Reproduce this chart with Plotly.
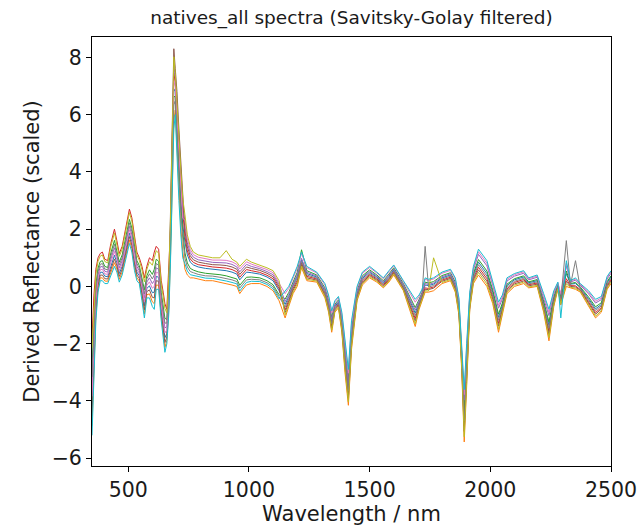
import plotly.graph_objects as go

# Wavelength grid (nm) shared by all spectra
wavelength_nm = [
    350, 358, 366, 375, 384, 393, 403, 415, 428, 443, 453, 463, 475, 490, 505, 515,
    526, 536, 546, 557, 567, 577, 588, 600, 608, 616, 626, 637, 645, 652, 660, 668,
    675, 682, 689, 695, 702, 710, 718, 726,
    735, 745, 757, 770, 790, 820, 850, 880, 906, 930, 950, 962, 975, 990, 1010, 1045,
    1075, 1100, 1125,
    1150, 1165, 1183, 1200, 1218, 1240, 1281, 1315, 1330, 1343, 1356, 1371, 1385, 1398,
    1412, 1425, 1448, 1470, 1500, 1530, 1557, 1580, 1600, 1640, 1668, 1689, 1705, 1717,
    1730, 1744, 1765, 1800, 1835, 1855,
    1870, 1882, 1892, 1902, 1915, 1930, 1951, 1986, 2010, 2034, 2050, 2069, 2100, 2138,
    2159, 2194, 2221, 2243, 2263, 2280, 2292, 2315, 2332, 2353, 2373, 2407, 2436, 2460,
    2484, 2500,
]

# Savitsky-Golay derivative spectra, one list per sample
sample_01 = [
    -4.18, -2.19, -0.66, 0.16, 0.49, 0.5, 0.36, 0.34, 0.73, 1.09, 0.83, 0.45, 0.7, 1.26, 1.86, 1.56,
    0.9, 0.5, 0.37, -0.14, -0.68, -0.07, 0.02, -0.22, -0.2, 0.35, 0.32, -0.78, -1.25, -1.79, -1.64, -0.55,
    1.65, 4.5, 6.9, 6.8, 5.65, 4.25, 3.05, 2.15,
    1.55, 1.1, 0.85, 0.75, 0.68, 0.63, 0.6, 0.58, 0.55, 0.5, 0.43, 0.23, 0.35, 0.5, 0.48, 0.43,
    0.33, 0.2, -0.15,
    -0.63, -0.35, 0.05, 0.35, 0.93, 0.45, 0.33, -0.15, -0.6, -1.23, -0.7, -0.55, -1.25, -2.4,
    -3.53, -1.7, -0.25, 0.28, 0.5, 0.33, 0.13, 0.35, 0.58, 0.03, -0.5, -0.93, -0.55, -0.3,
    0.05, 0.03, 0.08, 0.3, 0.4, 0.05,
    -0.7, -2.5, -4.52, -2.75, -0.5, 0.4, 0.85, 0.45, -0.2, -1.08, -0.65, 0.03, 0.23, 0.33,
    0.13, 0.2, -0.58, -1.35, -0.43, 0.03, -0.43, 0.45, 0.08, 0.1, -0.05, -0.43, -0.78, -0.63,
    0.13, 0.33,
]
sample_02 = [
    -4.86, -2.73, -1.02, -0.08, 0.3, 0.3, 0.19, 0.18, 0.51, 0.83, 0.61, 0.25, 0.5, 1.02, 1.62, 1.32,
    0.67, 0.3, 0.19, -0.38, -0.96, -0.29, -0.26, -0.54, -0.6, 0.05, 0.04, -1.06, -1.55, -2.13, -1.88, -0.85,
    0.97, 3.7, 5.78, 6.16, 4.73, 3.25, 2.05, 1.23,
    0.6, 0.4, 0.3, 0.3, 0.25, 0.2, 0.2, 0.15, 0.1, 0.05, 0.0, -0.25, -0.1, 0.05, 0.1, 0.1,
    0.0, -0.15, -0.5,
    -1.1, -0.7, -0.25, 0.0, 0.65, 0.2, 0.15, -0.4, -0.9, -1.6, -0.9, -0.75, -1.6, -3.0,
    -4.15, -2.2, -0.5, 0.05, 0.3, 0.15, -0.05, 0.15, 0.4, -0.15, -0.85, -1.4, -0.8, -0.5,
    -0.2, -0.2, -0.15, 0.1, 0.2, -0.2,
    -1.0, -3.0, -5.43, -3.5, -0.8, 0.1, 0.4, 0.0, -0.6, -1.6, -1.0, -0.25, 0.0, 0.1,
    -0.05, 0.0, -0.9, -1.9, -0.7, -0.1, -0.65, 0.0, -0.05, -0.1, -0.2, -0.7, -1.1, -0.9,
    -0.1, 0.1,
]
sample_03 = [
    -2.82, -1.11, 0.06, 0.64, 0.87, 0.9, 0.7, 0.66, 1.17, 1.61, 1.27, 0.85, 1.1, 1.74, 2.34, 2.04,
    1.36, 0.9, 0.73, 0.34, -0.12, 0.37, 0.58, 0.42, 0.6, 0.95, 0.88, -0.22, -0.65, -1.11, -1.16, 0.05,
    1.48, 4.3, 6.62, 6.64, 5.42, 4.0, 2.8, 1.92,
    1.17, 0.82, 0.63, 0.57, 0.51, 0.46, 0.44, 0.41, 0.37, 0.32, 0.26, 0.04, 0.17, 0.32, 0.33, 0.3,
    0.2, 0.06, -0.29,
    -0.44, -0.21, 0.17, 0.49, 1.28, 0.55, 0.4, -0.05, -0.48, -1.08, -0.62, -0.47, -1.11, -2.16,
    -3.28, -1.5, -0.15, 0.37, 0.58, 0.4, 0.2, 0.43, 0.65, 0.1, -0.36, -0.74, -0.45, -0.22,
    0.15, 0.12, 0.17, 0.38, 0.48, 0.15,
    -0.64, -2.4, -4.33, -2.6, -0.44, 0.46, 0.94, 0.54, -0.12, -0.97, -0.58, 0.08, 0.27, 0.37,
    0.16, 0.24, -0.51, -1.24, -0.37, 0.05, -0.38, 0.54, 0.1, 0.14, -0.02, -0.37, -0.71, -0.57,
    0.17, 0.37,
]
sample_04 = [
    -1.8, -0.3, 0.6, 1.0, 1.15, 1.2, 0.95, 0.9, 1.5, 2.0, 1.6, 1.15, 1.4, 2.1, 2.7, 2.4,
    1.7, 1.2, 1.0, 0.7, 0.3, 0.7, 1.0, 0.9, 1.2, 1.4, 1.3, 0.2, -0.2, -0.6, -0.8, 0.5,
    1.99, 4.9, 7.46, 7.12, 6.11, 4.75, 3.55, 2.61,
    1.74, 1.24, 0.96, 0.84, 0.76, 0.71, 0.68, 0.66, 0.64, 0.59, 0.51, 0.32, 0.44, 0.59, 0.55, 0.49,
    0.39, 0.27, -0.08,
    -0.82, -0.49, -0.07, 0.21, 0.82, 0.35, 0.26, -0.25, -0.72, -1.38, -0.78, -0.63, -1.39, -2.64,
    -3.78, -1.9, -0.35, 0.19, 0.42, 0.26, 0.06, 0.27, 0.51, -0.05, -0.64, -1.12, -0.65, -0.38,
    -0.05, -0.07, -0.02, 0.22, 0.32, -0.05,
    -0.82, -2.7, -4.88, -3.05, -0.62, 0.28, 0.67, 0.27, -0.36, -1.29, -0.79, -0.09, 0.14, 0.24,
    0.06, 0.12, -0.71, -1.57, -0.54, -0.03, -0.52, 0.27, 0.03, 0.02, -0.11, -0.54, -0.91, -0.74,
    0.04, 0.24,
]
sample_05 = [
    -3.5, -1.65, -0.3, 0.4, 0.68, 0.7, 0.53, 0.5, 0.95, 1.35, 1.05, 0.65, 0.9, 1.5, 2.1, 1.8,
    1.13, 0.7, 0.55, 0.1, -0.4, 0.15, 0.3, 0.1, 0.2, 0.65, 0.6, -0.5, -0.95, -1.45, -1.4, -0.25,
    2.16, 5.1, 7.74, 7.28, 6.34, 5.0, 3.8, 2.84,
    2.12, 1.52, 1.18, 1.02, 0.93, 0.88, 0.84, 0.83, 0.82, 0.77, 0.68, 0.51, 0.62, 0.77, 0.7, 0.62,
    0.52, 0.41, 0.06,
    -0.53, -0.28, 0.11, 0.42, 0.98, 0.5, 0.36, -0.1, -0.54, -1.15, -0.66, -0.51, -1.18, -2.28,
    -3.4, -1.6, -0.2, 0.32, 0.54, 0.36, 0.16, 0.39, 0.61, 0.06, -0.43, -0.83, -0.5, -0.26,
    0.1, 0.07, 0.12, 0.34, 0.44, 0.1,
    -0.52, -2.2, -3.97, -2.3, -0.32, 0.58, 1.12, 0.72, 0.04, -0.76, -0.44, 0.19, 0.36, 0.46,
    0.23, 0.32, -0.38, -1.02, -0.26, 0.1, -0.29, 0.72, 0.15, 0.22, 0.04, -0.26, -0.58, -0.46,
    0.26, 0.46,
]
sample_06 = [
    -4.52, -2.46, -0.84, 0.04, 0.39, 0.4, 0.27, 0.26, 0.62, 0.96, 0.72, 0.35, 0.6, 1.14, 1.74, 1.44,
    0.78, 0.4, 0.28, -0.26, -0.82, -0.18, -0.12, -0.38, -0.4, 0.2, 0.18, -0.92, -1.4, -1.96, -1.76, -0.7,
    2.5, 5.5, 8.3, 7.6, 6.8, 5.5, 4.3, 3.3,
    1.93, 1.38, 1.07, 0.93, 0.85, 0.8, 0.76, 0.75, 0.73, 0.68, 0.6, 0.42, 0.53, 0.68, 0.63, 0.56,
    0.46, 0.34, -0.01,
    -0.91, -0.56, -0.13, 0.14, 0.76, 0.3, 0.22, -0.3, -0.78, -1.45, -0.82, -0.67, -1.46, -2.76,
    -3.9, -2.0, -0.4, 0.14, 0.38, 0.22, 0.02, 0.23, 0.47, -0.08, -0.71, -1.21, -0.7, -0.42,
    -0.1, -0.11, -0.06, 0.18, 0.28, -0.1,
    -0.88, -2.8, -5.06, -3.2, -0.68, 0.22, 0.58, 0.18, -0.44, -1.39, -0.86, -0.14, 0.09, 0.19,
    0.02, 0.08, -0.77, -1.68, -0.59, -0.05, -0.56, 0.18, 0.0, -0.02, -0.14, -0.59, -0.97, -0.79,
    -0.01, 0.19,
]
sample_07 = [
    -3.84, -1.92, -0.48, 0.28, 0.58, 0.6, 0.44, 0.42, 0.84, 1.22, 0.94, 0.55, 0.8, 1.38, 1.98, 1.68,
    1.01, 0.6, 0.46, -0.02, -0.54, 0.04, 0.16, -0.06, 0.0, 0.5, 0.46, -0.64, -1.1, -1.62, -1.52, -0.4,
    1.82, 4.7, 7.18, 6.96, 5.88, 4.5, 3.3, 2.38,
    2.31, 1.66, 1.29, 1.11, 1.02, 0.97, 0.92, 0.92, 0.91, 0.86, 0.77, 0.61, 0.71, 0.86, 0.78, 0.69,
    0.59, 0.48, 0.13,
    -0.25, -0.07, 0.29, 0.63, 1.15, 0.65, 0.47, 0.05, -0.36, -0.93, -0.54, -0.39, -0.97, -1.92,
    -3.03, -1.3, -0.05, 0.46, 0.66, 0.47, 0.27, 0.51, 0.72, 0.17, -0.22, -0.55, -0.35, -0.14,
    0.25, 0.21, 0.26, 0.46, 0.56, 0.25,
    -0.46, -2.1, -3.78, -2.15, -0.26, 0.64, 1.21, 0.81, 0.12, -0.66, -0.37, 0.25, 0.41, 0.51,
    0.27, 0.36, -0.32, -0.91, -0.2, 0.13, -0.25, 0.81, 0.18, 0.26, 0.07, -0.2, -0.52, -0.4,
    0.31, 0.51,
]
sample_08 = [
    -3.16, -1.38, -0.12, 0.52, 0.77, 0.8, 0.61, 0.58, 1.06, 1.48, 1.16, 0.75, 1.0, 1.62, 2.22, 1.92,
    1.24, 0.8, 0.64, 0.22, -0.26, 0.26, 0.44, 0.26, 0.4, 0.8, 0.74, -0.36, -0.8, -1.28, -1.28, -0.1,
    1.31, 4.1, 6.34, 6.48, 5.19, 3.75, 2.55, 1.69,
    0.98, 0.68, 0.52, 0.48, 0.42, 0.37, 0.36, 0.32, 0.28, 0.23, 0.17, -0.06, 0.08, 0.23, 0.25, 0.23,
    0.13, -0.01, -0.36,
    -0.72, -0.42, -0.01, 0.28, 0.87, 0.4, 0.29, -0.2, -0.66, -1.3, -0.74, -0.59, -1.32, -2.52,
    -3.65, -1.8, -0.3, 0.23, 0.46, 0.29, 0.09, 0.31, 0.54, -0.01, -0.57, -1.02, -0.6, -0.34,
    1.4, -0.02, 0.03, 0.26, 0.36, 0.0,
    -0.76, -2.6, -4.7, -2.9, -0.56, 0.34, 0.76, 0.36, -0.28, -1.18, -0.72, -0.03, 0.18, 0.28,
    0.09, 0.16, -0.64, -1.46, -0.48, 0.0, -0.47, 1.6, 0.05, 0.9, -0.08, -0.48, -0.84, -0.68,
    0.08, 0.28,
]
sample_09 = [
    -2.14, -0.57, 0.42, 0.88, 1.06, 1.1, 0.87, 0.82, 1.39, 1.87, 1.49, 1.05, 1.3, 1.98, 2.58, 2.28,
    1.59, 1.1, 0.91, 0.58, 0.16, 0.59, 0.86, 0.74, 1.0, 1.25, 1.16, 0.06, -0.35, -0.77, -0.92, 0.35,
    2.33, 5.3, 8.02, 7.44, 6.57, 5.25, 4.05, 3.07,
    2.5, 1.8, 1.4, 1.2, 1.1, 1.05, 1.0, 1.0, 1.25, 0.95, 0.85, 0.7, 0.8, 0.95, 0.85, 0.75,
    0.65, 0.55, 0.2,
    -1.0, -0.63, -0.19, 0.07, 0.71, 0.25, 0.19, -0.35, -0.84, -1.53, -0.86, -0.71, -1.53, -2.88,
    -4.03, -2.1, -0.45, 0.1, 0.34, 0.19, -0.02, 0.19, 0.44, -0.12, -0.78, -1.31, -0.75, -0.46,
    -0.15, -0.16, 1.0, 0.14, 0.24, -0.15,
    -0.94, -2.9, -5.25, -3.35, -0.74, 0.16, 0.49, 0.09, -0.52, -1.5, -0.93, -0.2, 0.05, 0.15,
    -0.02, 0.04, -0.84, -1.79, -0.65, -0.08, -0.61, 0.09, -0.03, -0.06, -0.17, -0.65, -1.04, -0.85,
    -0.06, 0.15,
]
sample_10 = [
    -5.2, -3.0, -1.2, -0.2, 0.2, 0.2, 0.1, 0.1, 0.4, 0.7, 0.5, 0.15, 0.4, 0.9, 1.5, 1.2,
    0.55, 0.2, 0.1, -0.5, -1.1, -0.4, -0.4, -0.7, -0.8, -0.1, -0.1, -1.2, -1.7, -2.3, -2.0, -1.0,
    0.8, 3.5, 5.5, 6.0, 4.5, 3.0, 1.8, 1.0,
    0.79, 0.54, 0.41, 0.39, 0.34, 0.29, 0.28, 0.24, 0.19, 0.14, 0.09, -0.16, -0.01, 0.14, 0.18, 0.17,
    0.07, -0.08, -0.43,
    -0.15, 0.0, 0.35, 0.7, 1.2, 0.7, 0.5, 0.1, -0.3, -0.85, -0.5, -0.35, -0.9, -1.8,
    -2.9, -1.2, 0.0, 0.5, 0.7, 0.5, 0.3, 0.55, 0.75, 0.2, -0.15, -0.45, -0.3, -0.1,
    0.3, 0.25, 0.3, 0.5, 0.6, 0.3,
    -0.4, -2.0, -3.6, -2.0, -0.2, 0.7, 1.3, 0.9, 0.2, -0.55, -0.3, 0.3, 0.45, 0.55,
    0.3, 0.4, -0.25, -0.8, -0.15, 0.15, -1.1, 0.9, 0.2, 0.3, 0.1, -0.15, -0.45, -0.35,
    0.35, 0.55,
]

spectra = [sample_01, sample_02, sample_03, sample_04, sample_05,
           sample_06, sample_07, sample_08, sample_09, sample_10]

# matplotlib "tab10" colour cycle
tab10 = ["#1f77b4", "#ff7f0e", "#2ca02c", "#d62728", "#9467bd",
         "#8c564b", "#e377c2", "#7f7f7f", "#bcbd22", "#17becf"]

x_ticks = [500, 1000, 1500, 2000, 2500]
y_ticks = [-6, -4, -2, 0, 2, 4, 6, 8]

fig = go.Figure()
for k, spec in enumerate(spectra):
    fig.add_trace(go.Scatter(
        x=wavelength_nm, y=spec, mode="lines",
        line=dict(color=tab10[k % len(tab10)], width=1),
        showlegend=False, hoverinfo="skip",
    ))

axis_common = dict(
    showline=True, linecolor="black", linewidth=1, mirror=True,
    ticks="outside", ticklen=5, tickwidth=1, tickcolor="black",
    showgrid=False, zeroline=False, automargin=False,
    tickfont=dict(family="DejaVu Sans", size=20.5, color="#1a1a1a"),
)

fig.update_layout(
    width=640, height=532,
    margin=dict(l=92, r=29, t=37, b=66),
    paper_bgcolor="white", plot_bgcolor="white",
    font=dict(family="DejaVu Sans", color="#1a1a1a"),
    title=dict(text="natives_all spectra (Savitsky-Golay filtered)",
               font=dict(size=18.5, family="DejaVu Sans", color="#1a1a1a"),
               x=0.5, xref="paper", xanchor="center",
               y=1 - 18 / 532, yref="container", yanchor="middle"),
    xaxis=dict(range=[350, 2500], tickvals=x_ticks,
               title=dict(text="Wavelength / nm", font=dict(size=21), standoff=2),
               **axis_common),
    yaxis=dict(range=[-6.27, 8.71], tickvals=y_ticks,
               title=dict(text="Derived Reflectance (scaled)", font=dict(size=21), standoff=6),
               **axis_common),
)

fig.write_html("out.html")
